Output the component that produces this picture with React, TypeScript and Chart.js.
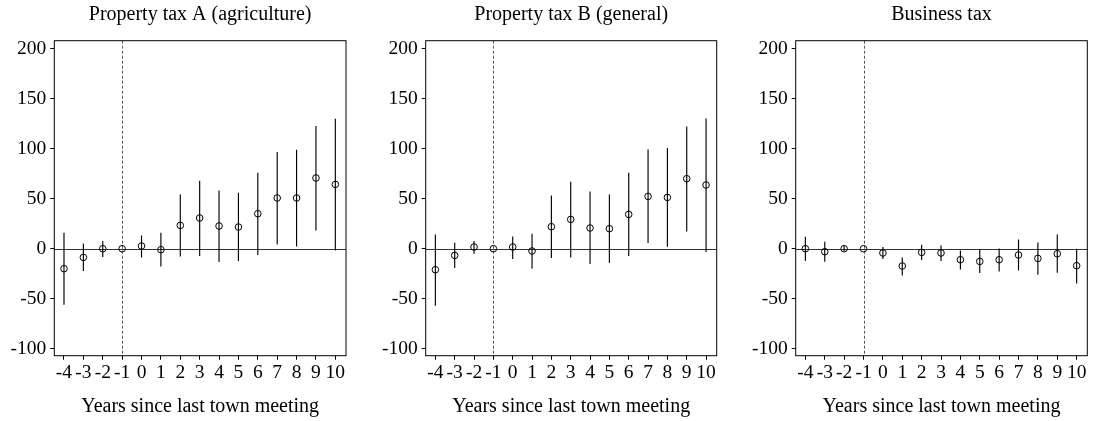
import React, { useEffect, useRef } from 'react';
import { Chart, registerables } from 'chart.js';

Chart.register(...registerables);

const YEARS = [-4, -3, -2, -1, 0, 1, 2, 3, 4, 5, 6, 7, 8, 9, 10];
const X_TICKS = [-4, -3, -2, -1, 0, 1, 2, 3, 4, 5, 6, 7, 8, 9, 10];
const Y_TICKS = [-100, -50, 0, 50, 100, 150, 200];
const REF_YEAR = -1;
const X_TITLE = 'Years since last town meeting';

const TITLE_A = 'Property tax A (agriculture)';
const EST_A = [-20, -8.7, 0, 0, 2.7, -1, 23.3, 30.7, 22.7, 21.7, 35, 50.7, 50.7, 70.7, 64.3];
const LO_A = [-56, -22.3, -8.3, null, -8.7, -17.7, -7.7, -7.3, -13.3, -12.3, -6.3, 4.3, 2.3, 18.3, -1.7];
const HI_A = [16, 5.3, 7.7, null, 13.3, 16, 54.3, 68, 58.3, 56, 76, 96.7, 99, 122.7, 130];

const TITLE_B = 'Property tax B (general)';
const EST_B = [-21, -6.7, 1.7, 0, 1.7, -2.3, 22, 29.3, 20.7, 20, 34.3, 52.3, 51.3, 70, 63.7];
const LO_B = [-57, -19.3, -5, null, -10.3, -20, -9.3, -8.7, -15.3, -14, -7.3, 5.7, 2, 17.3, -3.3];
const HI_B = [14.3, 6, 7.7, null, 12.3, 15, 53.3, 67, 57.3, 54.3, 76, 99.3, 100.7, 122.3, 130.3];

const TITLE_C = 'Business tax';
const EST_C = [0, -3, 0, 0, -4.3, -17.3, -3.7, -4.3, -11, -12.7, -11, -6.3, -9.7, -5, -17];
const LO_C = [-12.3, -13, -2.7, null, -10.3, -26.7, -11.3, -12.3, -20.7, -24.3, -22.7, -21.7, -26, -24, -34.7];
const HI_C = [12, 7, 2.7, null, 1.7, -8.7, 4, 3.3, -1.7, -0.3, 0.3, 9.3, 6.3, 14.3, 0];

const FONT = '"Liberation Serif", "Times New Roman", Times, serif';

type Panel = {
  title: string;
  est: number[];
  lo: (number | null)[];
  hi: (number | null)[];
  left: number;
  width: number;
  yWidth: number;
  rightPad: number;
};

const PANELS: Panel[] = [
  { title: TITLE_A, est: EST_A, lo: LO_A, hi: HI_A, left: 0, width: 364, yWidth: 54.3, rightPad: 18 },
  { title: TITLE_B, est: EST_B, lo: LO_B, hi: HI_B, left: 364, width: 364, yWidth: 61.7, rightPad: 11.3 },
  { title: TITLE_C, est: EST_C, lo: LO_C, hi: HI_C, left: 728, width: 365, yWidth: 67.7, rightPad: 5.7 },
];

function PanelChart({ p }: { p: Panel }) {
  const ref = useRef<HTMLCanvasElement | null>(null);

  useEffect(() => {
    if (!ref.current) return;
    const decor = {
      id: 'decor',
      beforeDatasetsDraw(chart: any) {
        const { ctx, chartArea: a, scales } = chart;
        const x = scales.x;
        const y = scales.y;
        ctx.save();
        ctx.beginPath();
        ctx.rect(a.left, a.top, a.right - a.left, a.bottom - a.top);
        ctx.clip();
        // zero line
        const y0 = Math.round(y.getPixelForValue(0)) + 0.5;
        ctx.strokeStyle = '#333';
        ctx.lineWidth = 1;
        ctx.beginPath();
        ctx.moveTo(a.left, y0);
        ctx.lineTo(a.right, y0);
        ctx.stroke();
        // dashed reference line
        const xr = Math.round(x.getPixelForValue(REF_YEAR)) + 0.5;
        ctx.strokeStyle = '#555';
        ctx.setLineDash([3, 2]);
        ctx.beginPath();
        ctx.moveTo(xr, a.top);
        ctx.lineTo(xr, a.bottom);
        ctx.stroke();
        ctx.setLineDash([]);
        // error bars
        ctx.strokeStyle = '#000';
        ctx.lineWidth = 1.15;
        YEARS.forEach((yr, i) => {
          const lo = p.lo[i];
          const hi = p.hi[i];
          if (lo == null || hi == null) return;
          const px = x.getPixelForValue(yr);
          ctx.beginPath();
          ctx.moveTo(px, y.getPixelForValue(lo));
          ctx.lineTo(px, y.getPixelForValue(hi));
          ctx.stroke();
        });
        ctx.restore();
      },
      afterDraw(chart: any) {
        const { ctx, chartArea: a } = chart;
        ctx.save();
        ctx.strokeStyle = '#000';
        ctx.lineWidth = 1;
        ctx.strokeRect(a.left, a.top, a.right - a.left, a.bottom - a.top);
        ctx.restore();
      },
    };

    const chart = new Chart(ref.current, {
      type: 'scatter',
      data: {
        datasets: [
          {
            data: YEARS.map((yr, i) => ({ x: yr, y: p.est[i] })),
            pointRadius: 3.3,
            pointHoverRadius: 3.3,
            pointBorderWidth: 1,
            borderColor: '#000',
            backgroundColor: 'rgba(0,0,0,0)',
          },
        ],
      },
      options: {
        responsive: false,
        animation: false,
        events: [],
        layout: { padding: { left: 0, right: p.rightPad, top: 0, bottom: 0 } },
        plugins: {
          legend: { display: false },
          tooltip: { enabled: false },
          title: {
            display: true,
            text: p.title,
            fullSize: false,
            color: '#000',
            font: { family: FONT, size: 20, weight: 'normal' },
            padding: { top: 3, bottom: 13.7 },
          },
        },
        scales: {
          x: {
            type: 'linear',
            min: -4.5,
            max: 10.55,
            afterBuildTicks: (axis: any) => {
              axis.ticks = X_TICKS.map((v) => ({ value: v }));
            },
            afterFit: (s: any) => {
              s.height = 65.3;
            },
            grid: { drawOnChartArea: false, drawTicks: true, tickLength: 4, tickColor: '#000', color: '#000' },
            border: { display: false },
            ticks: {
              autoSkip: false,
              maxRotation: 0,
              padding: 1,
              color: '#000',
              font: { family: FONT, size: 19.5 },
              callback: (v: any) => String(v),
            },
            title: {
              display: true,
              text: X_TITLE,
              color: '#000',
              font: { family: FONT, size: 20 },
              padding: { top: 0, bottom: 2.3 },
            },
          },
          y: {
            type: 'linear',
            min: -107,
            max: 208,
            afterBuildTicks: (axis: any) => {
              axis.ticks = Y_TICKS.map((v) => ({ value: v }));
            },
            afterFit: (s: any) => {
              s.width = p.yWidth;
            },
            grid: { drawOnChartArea: false, drawTicks: true, tickLength: 4, tickColor: '#000', color: '#000' },
            border: { display: false },
            ticks: {
              padding: 4,
              color: '#000',
              font: { family: FONT, size: 19.5 },
              callback: (v: any) => String(v),
            },
          },
        },
      },
      plugins: [decor],
    } as any);
    return () => chart.destroy();
  }, [p]);

  return (
    <canvas
      ref={ref}
      width={p.width}
      height={421}
      style={{ position: 'absolute', left: p.left, top: 0, width: p.width, height: 421 }}
    />
  );
}

export default function App() {
  return (
    <div style={{ position: 'absolute', left: 0, top: 0, width: 1093, height: 421, background: '#fff' }}>
      {PANELS.map((p, i) => (
        <PanelChart key={i} p={p} />
      ))}
    </div>
  );
}
